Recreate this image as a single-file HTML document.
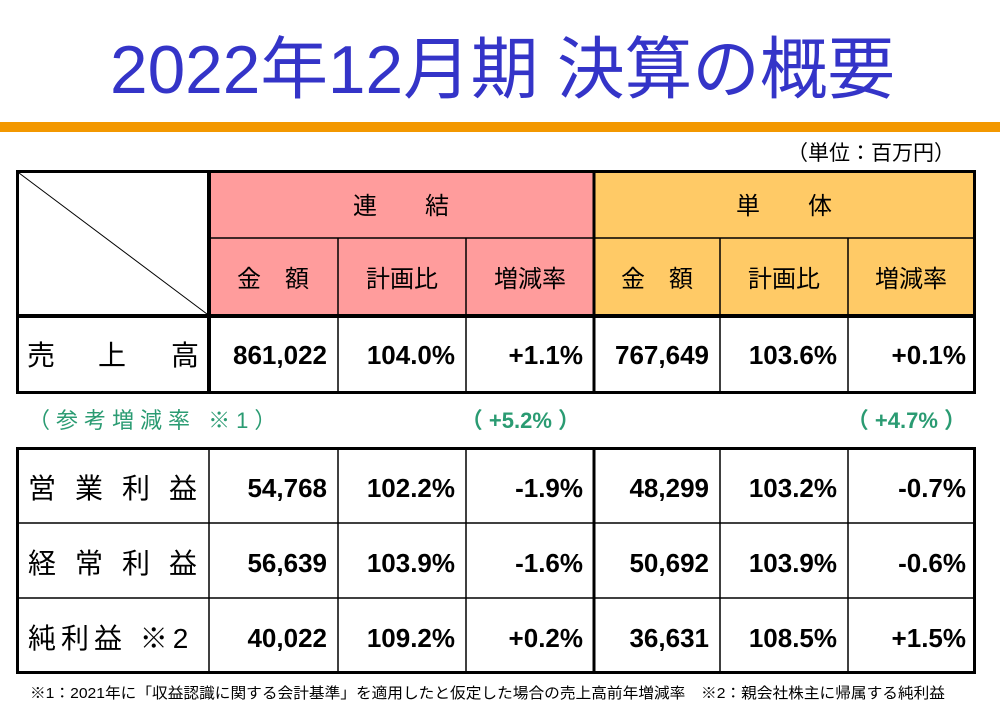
<!DOCTYPE html>
<html><head><meta charset="utf-8"><style>
html,body{margin:0;padding:0;background:#fff;}
svg{display:block}
text{font-family:"Liberation Sans","Noto Sans CJK JP",sans-serif;}
</style></head><body>
<svg width="1000" height="710" viewBox="0 0 1000 710" xmlns="http://www.w3.org/2000/svg">
<text x="110" y="93" font-size="68" fill="#3434c8" textLength="785" lengthAdjust="spacingAndGlyphs">2022年12月期 決算の概要</text>
<rect x="0" y="122" width="1000" height="10" fill="#f39800"/>
<text x="955" y="160" font-size="21" fill="#000" text-anchor="end">（単位：百万円）</text>

<rect x="209" y="172" width="385" height="144" fill="#ff9c9c"/>
<rect x="594" y="172" width="381" height="144" fill="#ffca66"/>

<g stroke="#000" fill="none">
<rect x="17.5" y="171.5" width="957" height="221" stroke-width="3"/>
<line x1="209" y1="171" x2="209" y2="393" stroke-width="4"/>
<line x1="594" y1="171" x2="594" y2="393" stroke-width="3"/>
<line x1="209" y1="238" x2="975" y2="238" stroke-width="1.5"/>
<line x1="17" y1="316" x2="975" y2="316" stroke-width="4"/>
<line x1="338" y1="238" x2="338" y2="393" stroke-width="1.5"/>
<line x1="466" y1="238" x2="466" y2="393" stroke-width="1.5"/>
<line x1="720" y1="238" x2="720" y2="393" stroke-width="1.5"/>
<line x1="848" y1="238" x2="848" y2="393" stroke-width="1.5"/>
<line x1="19" y1="173" x2="207" y2="314" stroke-width="1"/>
</g>
<g font-size="24" fill="#000" text-anchor="middle">
<text x="401" y="214">連　　結</text>
<text x="784" y="214">単　　体</text>
<text x="273" y="287">金　額</text>
<text x="402" y="287">計画比</text>
<text x="530" y="287">増減率</text>
<text x="657" y="287">金　額</text>
<text x="784" y="287">計画比</text>
<text x="911" y="287">増減率</text>
</g>
<g font-size="28" fill="#000">
<text x="27" y="365">売</text><text x="98" y="365">上</text><text x="171" y="365">高</text>
</g>
<g font-size="26" font-weight="bold" fill="#000" text-anchor="end">
<text x="327" y="364">861,022</text>
<text x="455" y="364">104.0%</text>
<text x="583" y="364">+1.1%</text>
<text x="709" y="364">767,649</text>
<text x="837" y="364">103.6%</text>
<text x="966" y="364">+0.1%</text>
</g>
<g font-size="22" fill="#2a9b72">
<text x="28" y="428" letter-spacing="6">（参考増減率 ※1）</text>
<text x="580" y="428" text-anchor="end" font-weight="bold">（ +5.2% ）</text>
<text x="966" y="428" text-anchor="end" font-weight="bold">（ +4.7% ）</text>
</g>

<g stroke="#000" fill="none">
<rect x="17.5" y="448.5" width="957" height="224" stroke-width="3"/>
<line x1="209" y1="448" x2="209" y2="673" stroke-width="1.5"/>
<line x1="338" y1="448" x2="338" y2="673" stroke-width="1.5"/>
<line x1="466" y1="448" x2="466" y2="673" stroke-width="1.5"/>
<line x1="594" y1="448" x2="594" y2="673" stroke-width="3"/>
<line x1="720" y1="448" x2="720" y2="673" stroke-width="1.5"/>
<line x1="848" y1="448" x2="848" y2="673" stroke-width="1.5"/>
<line x1="17" y1="523" x2="975" y2="523" stroke-width="1.5"/>
<line x1="17" y1="598" x2="975" y2="598" stroke-width="1.5"/>
</g>
<g font-size="28" fill="#000">
<text x="28" y="498" letter-spacing="19">営業利益</text>
<text x="28" y="573" letter-spacing="19">経常利益</text>
<text x="28" y="648" letter-spacing="5">純利益 ※2</text>
</g>
<g font-size="26" font-weight="bold" fill="#000" text-anchor="end">
<text x="327" y="497">54,768</text><text x="455" y="497">102.2%</text><text x="583" y="497">-1.9%</text>
<text x="709" y="497">48,299</text><text x="837" y="497">103.2%</text><text x="966" y="497">-0.7%</text>
<text x="327" y="572">56,639</text><text x="455" y="572">103.9%</text><text x="583" y="572">-1.6%</text>
<text x="709" y="572">50,692</text><text x="837" y="572">103.9%</text><text x="966" y="572">-0.6%</text>
<text x="327" y="647">40,022</text><text x="455" y="647">109.2%</text><text x="583" y="647">+0.2%</text>
<text x="709" y="647">36,631</text><text x="837" y="647">108.5%</text><text x="966" y="647">+1.5%</text>
</g>
<text x="30" y="698" font-size="15" fill="#000" textLength="915" lengthAdjust="spacingAndGlyphs">※1：2021年に「収益認識に関する会計基準」を適用したと仮定した場合の売上高前年増減率　※2：親会社株主に帰属する純利益</text>
</svg>
</body></html>
